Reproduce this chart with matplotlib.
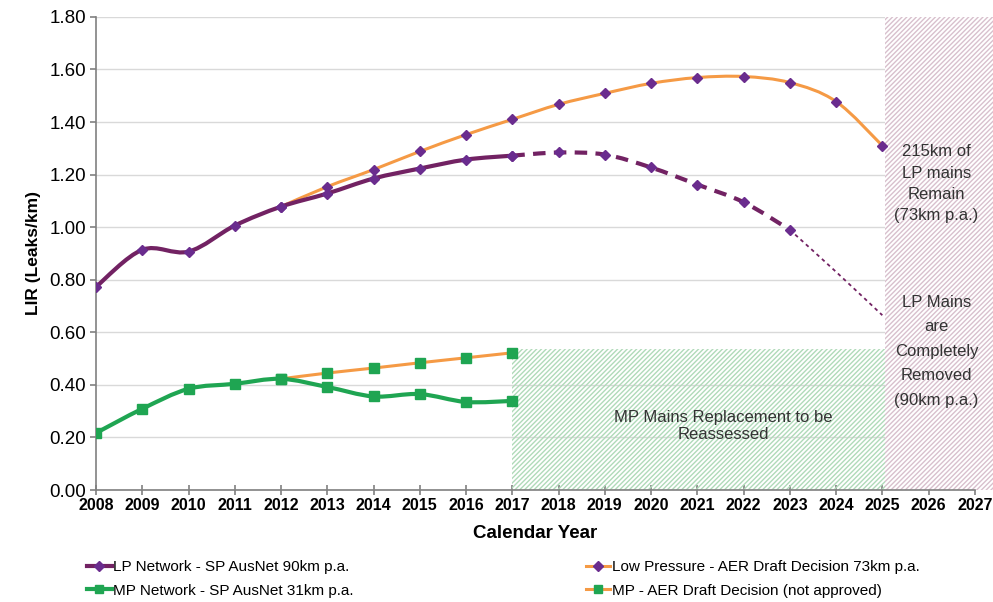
import numpy as np
import matplotlib.pyplot as plt
from matplotlib.path import Path
from matplotlib.patches import PathPatch, Rectangle
from matplotlib.lines import Line2D

plt.rcParams['font.family'] = ['Liberation Sans', 'DejaVu Sans']
plt.rcParams['hatch.linewidth'] = 1.0

# Leak index rates (leaks per km) by calendar year
years = list(range(2008, 2028))

lp_years = [2008, 2009, 2010, 2011, 2012, 2013, 2014, 2015, 2016, 2017]
lp_actual = [0.773, 0.914, 0.907, 1.006, 1.078, 1.128, 1.185, 1.223, 1.257, 1.272]

lp_fc_years = [2017, 2018, 2019, 2020, 2021, 2022, 2023]
lp_forecast = [1.272, 1.284, 1.276, 1.227, 1.162, 1.095, 0.990]

lp_tail_years = [2023, 2024, 2025]
lp_tail = [0.990, 0.830, 0.665]

aer_lp_years = [2012, 2013, 2014, 2015, 2016, 2017, 2018, 2019, 2020,
                2021, 2022, 2023, 2024, 2025]
aer_lp = [1.078, 1.154, 1.219, 1.288, 1.352, 1.410, 1.467, 1.509, 1.547,
          1.569, 1.573, 1.550, 1.478, 1.310]

mp_years = [2008, 2009, 2010, 2011, 2012, 2013, 2014, 2015, 2016, 2017]
mp_actual = [0.217, 0.309, 0.385, 0.404, 0.423, 0.392, 0.356, 0.365, 0.335, 0.339]

aer_mp_years = [2012, 2013, 2014, 2015, 2016, 2017]
aer_mp = [0.423, 0.445, 0.464, 0.484, 0.503, 0.522]

purple_line = '#722263'
purple_mark = '#6a2c8e'
orange = '#f59a45'
green = '#1fa552'


def smooth(ax, xs, ys, color, lw, ls='-', z=3):
    # Excel-style smoothed line as a chain of cubic Bezier segments
    p = np.column_stack([xs, ys]).astype(float)
    n = len(p)
    verts = [p[0]]
    codes = [Path.MOVETO]
    for i in range(n - 1):
        p0 = p[i - 1] if i > 0 else p[i]
        p3 = p[i + 2] if i + 2 < n else p[i + 1]
        c1 = p[i] + (p[i + 1] - p0) / 6
        c2 = p[i + 1] - (p3 - p[i]) / 6
        verts += [c1, c2, p[i + 1]]
        codes += [Path.CURVE4] * 3
    patch = PathPatch(Path(verts, codes), fill=False, edgecolor=color,
                      linewidth=lw, linestyle=ls, zorder=z,
                      capstyle='butt')
    ax.add_patch(patch)


fig = plt.figure(figsize=(9.93, 6.02), dpi=100)
ax = fig.add_axes([0.0967, 0.186, 0.885, 0.786])

ax.set_xlim(2008, 2027)
ax.set_ylim(0, 1.8)
ax.set_yticks(np.arange(0, 1.81, 0.2))
ax.set_yticklabels(['%.2f' % v for v in np.arange(0, 1.81, 0.2)], fontsize=13.5,
                   color='#222222')
ax.set_xticks(years)
ax.set_xticklabels([str(y) for y in years], fontsize=11.5, fontweight='bold')
ax.grid(axis='y', color='#d9d9d9', lw=1, zorder=0)
ax.set_axisbelow(True)
for s in ['top', 'right']:
    ax.spines[s].set_visible(False)
for s in ['left', 'bottom']:
    ax.spines[s].set_color('#808080')
    ax.spines[s].set_linewidth(1.2)
ax.tick_params(axis='both', colors='#808080', labelcolor='black', length=4, width=1.2)
ax.tick_params(axis='x', direction='inout', length=7, pad=2)
ax.tick_params(axis='y', pad=3)

ax.set_ylabel('LIR (Leaks/km)', fontsize=12.5, fontweight='bold', labelpad=6)
ax.set_xlabel('Calendar Year', fontsize=13.5, fontweight='bold', labelpad=9)

# shaded regions
ax.add_patch(Rectangle((2017, 0), 8.05, 0.535, facecolor='none',
                       edgecolor='#b0dab9', hatch='///////', lw=0, zorder=1))
ax.add_patch(Rectangle((2025.05, 0), 2.6, 1.8, facecolor='white',
                       edgecolor='#d8c0cd', hatch='///////', lw=0, zorder=1,
                       clip_on=False))

# MP series
smooth(ax, aer_mp_years, aer_mp, orange, 2.2, z=3)
ax.plot(aer_mp_years, aer_mp, ls='none', marker='s', ms=6.5, color=green, zorder=5)
smooth(ax, mp_years, mp_actual, green, 3.0, z=4)
ax.plot(mp_years, mp_actual, ls='none', marker='s', ms=6.5, color=green, zorder=5)

# LP series
smooth(ax, aer_lp_years, aer_lp, orange, 2.2, z=3)
ax.plot(aer_lp_years, aer_lp, ls='none', marker='D', ms=5, color=purple_mark, zorder=5)
smooth(ax, lp_years, lp_actual, purple_line, 3.0, z=4)
ax.plot(lp_years, lp_actual, ls='none', marker='D', ms=5, color=purple_mark, zorder=5)
smooth(ax, lp_fc_years, lp_forecast, purple_line, 3.0, ls=(0, (3, 2)), z=4)
ax.plot(lp_fc_years, lp_forecast, ls='none', marker='D', ms=5, color=purple_mark, zorder=5)
smooth(ax, lp_tail_years, lp_tail, purple_line, 1.3, ls=(0, (2, 2)), z=4)

# annotations
ax.text(2026.17, 1.165, '215km of\nLP mains\nRemain\n(73km p.a.)', ha='center',
        va='center', fontsize=12, color='#333333', linespacing=1.52, zorder=6)
ax.text(2026.17, 0.528, 'LP Mains\nare\nCompletely\nRemoved\n(90km p.a.)', ha='center',
        va='center', fontsize=12, color='#333333', linespacing=1.8, zorder=6)
ax.text(2021.56, 0.244, 'MP Mains Replacement to be\nReassessed', ha='center',
        va='center', fontsize=12, color='#333333', linespacing=1.2, zorder=6)

# legend
h_lp = Line2D([], [], color=purple_line, lw=3, marker='D', ms=5, mfc=purple_mark, mec=purple_mark)
h_mp = Line2D([], [], color=green, lw=3, marker='s', ms=6, mfc=green, mec=green)
h_alp = Line2D([], [], color=orange, lw=2.2, marker='D', ms=5, mfc=purple_mark, mec=purple_mark)
h_amp = Line2D([], [], color=orange, lw=2.2, marker='s', ms=6, mfc=green, mec=green)
leg_kw = dict(loc='upper left', frameon=False, handlelength=1.6, handletextpad=0.1,
              labelspacing=0.62, prop={'size': 11})
fig.legend([h_lp, h_mp], ['LP Network - SP AusNet 90km p.a.', 'MP Network - SP AusNet 31km p.a.'],
           bbox_to_anchor=(0.074, 0.092), **leg_kw)
fig.legend([h_alp, h_amp], ['Low Pressure - AER Draft Decision 73km p.a.',
                            'MP - AER Draft Decision (not approved)'],
           bbox_to_anchor=(0.576, 0.092), **leg_kw)

fig.savefig('out.png', dpi=100)
